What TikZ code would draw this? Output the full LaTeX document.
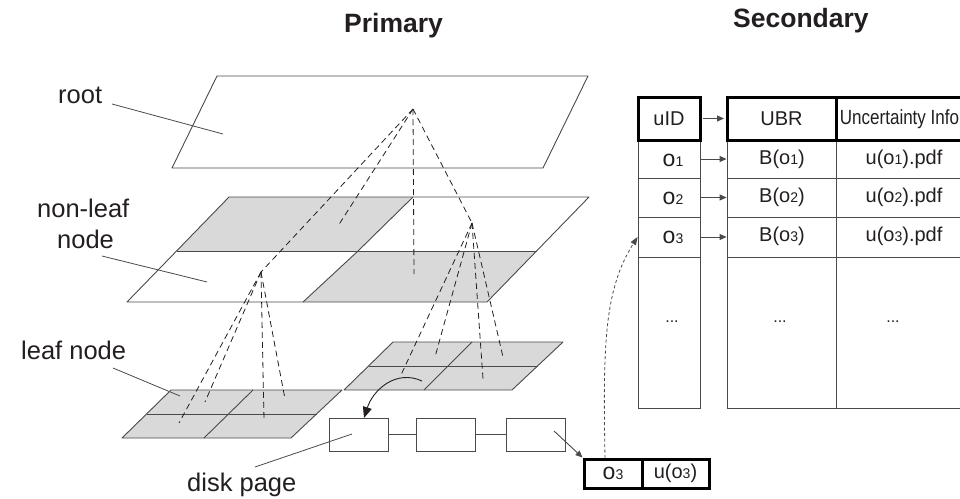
\documentclass[tikz,border=0pt]{standalone}
\usepackage{fontspec}
\setmainfont{Liberation Sans}
\usetikzlibrary{arrows.meta}
\definecolor{ink}{HTML}{231F20}
\definecolor{edge}{HTML}{4A4A4A}
\definecolor{planegray}{HTML}{D9D9D9}
\newcommand\subd[1]{{\fontsize{14}{14}\selectfont #1}}
\newcommand\bigo{{\fontsize{23}{23}\selectfont o}}

\begin{document}
\begin{tikzpicture}[x=1pt,y=-1pt,
  plane/.style={draw=edge, line width=0.9pt, line join=round},
  link/.style={draw=ink, line width=0.8pt, dash pattern=on 6pt off 4pt},
  leader/.style={draw=edge, line width=0.8pt},
  lab/.style={inner sep=0pt, text=ink, font=\fontsize{25.5}{28}\selectfont},
  title/.style={inner sep=0pt, text=ink, font=\fontsize{26.5}{28}\selectfont\bfseries},
  cell/.style={draw=edge, line width=0.9pt, inner sep=0pt, text=ink,
    font=\fontsize{20}{22}\selectfont},
  headcell/.style={cell, draw=black, line width=3pt},
  pagebox/.style={draw=edge, line width=0.9pt, inner sep=0pt,
    minimum width=59pt, minimum height=33pt},
  rec/.style={draw=black, line width=3pt, inner sep=0pt, text=ink,
    minimum height=29pt, font=\fontsize{20}{22}\selectfont},
  smalltip/.style={-{Triangle[length=7pt,width=6pt]}},
  bigtip/.style={-{Triangle[length=11pt,width=9pt]}}
]
\useasboundingbox (0,0) rectangle (960,498);
\fill[white] (0,0) rectangle (960,498);

% ---------- titles ----------
\node[title, anchor=base west] (tprim) at (344,32) {Primary};
\node[title, anchor=base west] (tsec) at (733,27) {Secondary};

% ---------- root plane ----------
\coordinate (rA) at (217,76);  \coordinate (rB) at (588,76);
\coordinate (rC) at (543,168); \coordinate (rD) at (172,168);
\draw[plane] (rA)--(rB)--(rC)--(rD)--cycle;

% ---------- non-leaf plane ----------
\coordinate (nA) at (229,197);   \coordinate (nB) at (589,197);
\coordinate (nC) at (487,302);   \coordinate (nD) at (127,302);
\coordinate (nL) at (176.5,251); \coordinate (nR) at (536.5,251);
\coordinate (nT) at (413,197);   \coordinate (nM) at (358,251);
\coordinate (nS) at (303,302);
\fill[planegray] (nA)--(nT)--(nM)--(nL)--cycle;
\fill[planegray] (nM)--(nR)--(nC)--(nS)--cycle;
\draw[plane] (nA)--(nB)--(nC)--(nD)--cycle;
\draw[plane] (nL)--(nR);
\draw[plane] (nT)--(nM)--(nS);

% ---------- leaf planes ----------
\coordinate (aA) at (171,390);   \coordinate (aB) at (342,390);
\coordinate (aC) at (291,438);   \coordinate (aD) at (122,438);
\coordinate (aL) at (146.5,414); \coordinate (aR) at (316.5,414);
\coordinate (aT) at (253,390);   \coordinate (aS) at (204,438);
\fill[planegray] (aA)--(aB)--(aC)--(aD)--cycle;
\draw[plane] (aA)--(aB)--(aC)--(aD)--cycle;
\draw[plane] (aL)--(aR);
\draw[plane] (aT)--(aS);

\coordinate (bA) at (393,342);   \coordinate (bB) at (563,342);
\coordinate (bC) at (512,390);   \coordinate (bD) at (344,390);
\coordinate (bL) at (368.5,366); \coordinate (bR) at (537.5,366);
\coordinate (bT) at (472,342);   \coordinate (bS) at (424,390);
\fill[planegray] (bA)--(bB)--(bC)--(bD)--cycle;
\draw[plane] (bA)--(bB)--(bC)--(bD)--cycle;
\draw[plane] (bL)--(bR);
\draw[plane] (bT)--(bS);

% ---------- parent-child links ----------
\coordinate (apR) at (413,109);
\coordinate (apL) at (261,272);
\coordinate (apB) at (472,223);
\coordinate (eR1) at (338,226);
\coordinate (eR2) at (414,274);
\draw[link] (apR)--(apL);
\draw[link] (apR)--(eR1);
\draw[link] (apR)--(eR2);
\draw[link] (apR)--(apB);

\coordinate (eL1) at (179,423); \coordinate (eL2) at (205,402);
\coordinate (eL3) at (264,420); \coordinate (eL4) at (285,399);
\foreach \e in {eL1,eL2,eL3,eL4} \draw[link] (apL)--(\e);

\coordinate (eB1) at (400,377); \coordinate (eB2) at (435,357);
\coordinate (eB3) at (483,379); \coordinate (eB4) at (503,357);
\foreach \e in {eB1,eB2,eB3,eB4} \draw[link] (apB)--(\e);

% ---------- labels and leaders ----------
\node[lab, anchor=base west] (lroot) at (58,103) {root};
\node[lab, anchor=base west] (lnon1) at (37,217) {non-leaf};
\node[lab, anchor=base west] (lnon2) at (57,248) {node};
\node[lab, anchor=base west] (lleaf) at (21,359) {leaf node};
\node[lab, anchor=base west] (ldisk) at (187,491) {disk page};

\coordinate (q1) at (112,104); \coordinate (q1e) at (223,134);
\coordinate (q2) at (102,256); \coordinate (q2e) at (207,282);
\coordinate (q3) at (113,368); \coordinate (q3e) at (180,396);
\coordinate (q4) at (255,467); \coordinate (q4e) at (352,434);
\draw[leader] (q1)--(q1e);
\draw[leader] (q2)--(q2e);
\draw[leader] (q3)--(q3e);
\draw[leader] (q4)--(q4e);

% ---------- disk pages ----------
\node[pagebox] (pg1) at (358.5,434.5) {};
\node[pagebox] (pg2) at (445.5,434.5) {};
\node[pagebox] (pg3) at (536,434.5) {};
\draw[edge, line width=0.9pt] (pg1.east)--(pg2.west);
\draw[edge, line width=0.9pt] (pg2.east)--(pg3.west);

\coordinate (cs) at (422,381);
\coordinate (pg1in) at (364,418);
\draw[ink, line width=0.9pt, bigtip] (cs) .. controls (396,369) and (373,390) .. (pg1in);

% ---------- object record ----------
\node[rec, minimum width=58pt] (ro) at (613,473.5) {\bigo\subd{3}};
\node[rec, minimum width=67pt] (ru) at (675.5,473.5) {u(o\subd{3})};
\coordinate (pg3in) at (554,431);
\draw[edge, line width=0.9pt, smalltip] (pg3in)--(ro.north west);

% ---------- secondary index table ----------
\foreach \nm/\yc/\h in {1/159/38, 2/197.5/39, 3/237/40, 4/332.5/151}{
  \node[cell, minimum width=62pt, minimum height=\h pt] (id\nm) at (669,\yc) {};
  \node[cell, minimum width=109pt, minimum height=\h pt] (ub\nm) at (781.5,\yc) {};
  \node[cell, minimum width=127pt, minimum height=\h pt] (un\nm) at (899.5,\yc) {};
}
\node[headcell, minimum width=62pt, minimum height=43pt] (idh) at (669,118.5) {uID};
\node[headcell, minimum width=109pt, minimum height=43pt] (ubh) at (781.5,118.5) {UBR};
\node[headcell, minimum width=127pt, minimum height=43pt,
  font=\fontsize{20.5}{22}\selectfont] (unh) at (899.5,119)
  {\scalebox{0.83}[1]{Uncertainty Info}};

\node[cell, draw=none] (t1) at (673,160) {\bigo\subd{1}};
\node[cell, draw=none] (t2) at (673,198) {\bigo\subd{2}};
\node[cell, draw=none] (t3) at (673,237) {\bigo\subd{3}};
\node[cell, draw=none] (b1) at (782,159) {B(o\subd{1})};
\node[cell, draw=none] (b2) at (782,197) {B(o\subd{2})};
\node[cell, draw=none] (b3) at (782,236) {B(o\subd{3})};
\node[cell, draw=none] (u1) at (904,159) {u(o\subd{1}).pdf};
\node[cell, draw=none] (u2) at (904,197) {u(o\subd{2}).pdf};
\node[cell, draw=none] (u3) at (904,236) {u(o\subd{3}).pdf};
\node[cell, draw=none, font=\fontsize{16}{18}\selectfont] (d1) at (672,322) {...};
\node[cell, draw=none, font=\fontsize{16}{18}\selectfont] (d2) at (780,322) {...};
\node[cell, draw=none, font=\fontsize{16}{18}\selectfont] (d3) at (893,322) {...};

\draw[edge, line width=0.9pt, smalltip] ([xshift=1.5pt]idh.east)--([xshift=-1.5pt]ubh.west);
\draw[edge, line width=0.9pt, smalltip] (id1.east)--(ub1.west);
\draw[edge, line width=0.9pt, smalltip] (id2.east)--(ub2.west);
\draw[edge, line width=0.9pt, smalltip] (id3.east)--(ub3.west);

% ---------- record back to its index entry ----------
\coordinate (rs) at (605,458);
\draw[edge, line width=0.8pt, dash pattern=on 3pt off 2.5pt,
  -{Triangle[length=8pt,width=6pt]}]
  (rs) .. controls (603,345) and (604,290) .. (id3.west);

\end{tikzpicture}
\end{document}
